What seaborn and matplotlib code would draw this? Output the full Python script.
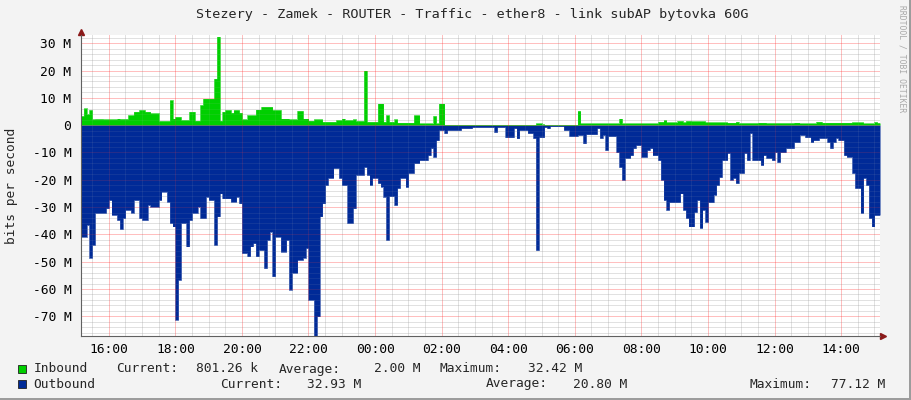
import numpy as np
import pandas as pd
import seaborn as sns
import matplotlib
matplotlib.use("Agg")
import matplotlib.pyplot as plt
from matplotlib.patches import Rectangle
from matplotlib.ticker import FixedLocator, MultipleLocator, FuncFormatter

# 5-minute samples, Mbit/s, starting 15:10
inbound = [
    3.3, 6.1, 4.0, 5.5, 2.1, 2.2, 2.2, 2.2, 2.1, 2.1, 2.1, 2.1,
    2.1, 2.4, 2.2, 2.2, 2.2, 3.6, 3.6, 4.9, 4.9, 5.5, 5.5, 4.9,
    4.9, 4.3, 4.3, 4.3, 1.5, 1.5, 1.5, 1.5, 9.1, 2.4, 3.0, 3.0,
    1.8, 1.8, 1.8, 4.9, 4.9, 1.6, 1.6, 7.3, 9.7, 9.7, 9.7, 9.7,
    17.0, 32.4, 1.6, 4.9, 5.5, 5.5, 4.5, 5.5, 5.5, 4.5, 2.1, 2.1,
    3.6, 3.6, 3.6, 5.7, 5.7, 6.7, 6.7, 6.7, 6.7, 5.5, 5.5, 5.5,
    2.4, 2.4, 2.4, 2.1, 2.1, 2.1, 5.2, 5.2, 2.4, 2.4, 1.6, 1.6,
    2.1, 2.1, 2.1, 1.2, 1.2, 1.2, 1.2, 1.2, 1.8, 1.8, 2.4, 1.8,
    1.8, 1.8, 2.1, 1.5, 1.5, 1.5, 20.0, 1.2, 1.2, 1.2, 1.2, 7.9,
    7.9, 1.2, 3.6, 1.2, 1.2, 2.1, 0.9, 0.9, 0.9, 0.9, 0.9, 0.9,
    3.6, 3.6, 0.6, 0.6, 0.6, 0.6, 0.6, 3.3, 0.6, 7.9, 7.9, 0.1,
    0.1, 0.1, 0.1, 0.1, 0.1, 0.1, 0.1, 0.1, 0.1, 0.1, 0.1, 0.1,
    0.1, 0.1, 0.1, 0.1, 0.1, 0.1, 0.1, 0.1, 0.1, 0.1, 0.1, 0.1,
    0.1, 0.1, 0.1, 0.1, 0.1, 0.1, 0.1, 0.1, 0.6, 0.6, 0.3, 0.1,
    0.1, 0.1, 0.1, 0.1, 0.1, 0.1, 0.1, 0.1, 0.1, 0.1, 0.1, 5.2,
    0.6, 0.6, 0.6, 0.6, 0.6, 0.6, 0.6, 0.6, 0.6, 0.6, 0.6, 0.6,
    0.6, 0.6, 2.4, 0.6, 0.6, 0.6, 0.6, 0.6, 0.6, 0.6, 0.6, 0.6,
    0.6, 0.6, 0.6, 0.6, 1.2, 1.2, 1.8, 1.0, 1.0, 1.0, 1.0, 1.5,
    1.5, 1.0, 1.5, 1.5, 1.4, 1.4, 1.4, 1.4, 1.4, 1.0, 1.0, 1.0,
    1.0, 1.0, 1.0, 1.0, 1.0, 0.9, 0.9, 0.9, 1.2, 0.7, 0.7, 0.7,
    0.7, 0.7, 0.7, 0.7, 0.9, 0.9, 0.9, 0.7, 0.7, 0.7, 0.7, 0.7,
    0.7, 0.7, 0.7, 0.7, 0.7, 0.9, 0.9, 0.6, 0.6, 0.6, 0.6, 0.6,
    0.6, 1.2, 1.2, 0.9, 0.9, 0.9, 0.9, 0.9, 0.9, 0.9, 0.9, 0.9,
    0.9, 0.9, 1.0, 1.0, 1.0, 1.0, 0.6, 0.6, 0.6, 0.6, 1.1, 0.8,
]
outbound = [
    40.8, 40.8, 36.5, 48.5, 43.8, 32.1, 32.1, 32.1, 32.1, 30.4, 27.4, 32.8,
    32.8, 34.7, 38.0, 34.0, 31.0, 31.0, 32.0, 27.4, 27.4, 34.0, 34.7, 34.7,
    29.2, 29.8, 29.8, 29.8, 27.4, 24.3, 24.3, 28.0, 35.8, 37.1, 71.2, 56.6,
    35.8, 35.8, 44.4, 34.7, 32.1, 32.1, 29.8, 34.0, 34.0, 26.2, 27.4, 27.4,
    43.8, 33.4, 25.0, 26.8, 26.8, 26.8, 28.0, 28.0, 26.2, 28.6, 46.8, 46.8,
    48.0, 44.4, 43.2, 48.0, 45.7, 45.7, 52.3, 42.0, 39.0, 55.3, 40.8, 40.8,
    46.3, 46.3, 42.0, 60.2, 54.0, 54.0, 49.3, 49.3, 48.5, 45.0, 63.9, 63.9,
    77.1, 70.0, 33.4, 28.6, 21.9, 19.3, 19.3, 15.7, 15.7, 19.3, 21.9, 21.9,
    35.8, 35.8, 30.4, 18.2, 18.2, 18.2, 15.3, 18.2, 21.9, 19.3, 19.3, 21.2,
    22.5, 26.2, 42.0, 26.0, 26.0, 29.2, 23.0, 19.3, 19.3, 22.6, 17.5, 17.5,
    13.9, 13.9, 12.8, 12.8, 12.8, 11.0, 8.4, 11.6, 5.5, 1.8, 1.8, 2.9,
    1.8, 1.8, 1.8, 1.8, 1.8, 1.1, 1.1, 1.1, 1.1, 0.7, 0.7, 0.7,
    0.7, 0.7, 0.7, 0.7, 0.7, 2.5, 0.7, 0.7, 0.7, 4.4, 4.4, 4.4,
    1.1, 4.8, 1.8, 1.8, 1.8, 2.9, 2.9, 4.7, 45.7, 4.4, 4.4, 0.7,
    1.1, 0.4, 0.4, 0.4, 0.4, 0.4, 1.8, 1.8, 4.0, 4.0, 4.0, 3.6,
    3.6, 6.6, 3.3, 3.3, 3.3, 3.3, 1.1, 4.7, 3.6, 9.1, 4.0, 4.0,
    4.0, 9.9, 15.3, 20.0, 12.0, 12.0, 11.0, 8.4, 7.3, 7.3, 11.6, 11.6,
    9.1, 8.4, 11.0, 11.0, 12.8, 20.0, 27.4, 31.0, 28.2, 28.2, 28.2, 28.2,
    25.0, 31.0, 34.0, 37.1, 37.1, 31.8, 27.4, 37.6, 31.0, 35.4, 28.2, 28.2,
    25.5, 21.9, 19.0, 12.8, 12.8, 10.2, 20.0, 19.3, 21.2, 17.5, 17.5, 10.2,
    12.8, 2.9, 12.8, 12.8, 12.8, 14.6, 11.0, 12.0, 12.0, 12.8, 9.9, 13.5,
    9.9, 9.9, 8.4, 8.4, 8.4, 6.2, 6.2, 3.6, 3.6, 4.4, 4.4, 6.2,
    5.5, 5.5, 4.7, 4.7, 4.7, 6.2, 8.4, 6.2, 4.7, 5.5, 5.5, 11.0,
    11.6, 11.6, 17.5, 23.0, 23.0, 32.1, 19.3, 21.9, 34.0, 37.1, 32.9, 32.9,
]

title = "Stezery - Zamek - ROUTER - Traffic - ether8 - link subAP bytovka 60G"
in_stats = ["801.26 k", "2.00 M", "32.42 M"]
out_stats = ["32.93 M", "20.80 M", "77.12 M"]

GREEN = "#00CF00"
BLUE = "#002A97"
BG = "#F3F3F3"

sns.set_style("white")
plt.rcParams["font.family"] = ["DejaVu Sans Mono", "DejaVu Sans"]

step = 5 / 60
start = 15 + 10 / 60
hours = start + np.arange(len(inbound)) * step
df = pd.DataFrame({"hour": hours, "inbound": inbound, "outbound": -np.array(outbound)})

edges = np.append(df["hour"], df["hour"].iloc[-1] + step)
inb = np.append(df["inbound"], df["inbound"].iloc[-1])
outb = np.append(df["outbound"], df["outbound"].iloc[-1])

W, H = 911, 400
fig = plt.figure(figsize=(W / 100, H / 100), dpi=100, facecolor=BG)
ax = fig.add_axes([81 / W, (H - 336) / H, 799 / W, 301 / H])
ax.set_facecolor("white")

ax.fill_between(edges, 0, inb, step="post", color=GREEN, lw=0, zorder=1)
ax.fill_between(edges, 0, outb, step="post", color=BLUE, lw=0, zorder=1)
sns.lineplot(x=edges, y=inb, drawstyle="steps-post", color=GREEN, lw=0.4,
             estimator=None, ax=ax, zorder=1)
sns.lineplot(x=edges, y=outb, drawstyle="steps-post", color=BLUE, lw=0.4,
             estimator=None, ax=ax, zorder=1)

ax.set_xlim(edges[0], edges[-1])
ax.set_ylim(-77.2, 33)

ax.xaxis.set_major_locator(FixedLocator(np.arange(16, 39, 2)))
ax.xaxis.set_minor_locator(MultipleLocator(0.5))
ax.yaxis.set_major_locator(MultipleLocator(10))
ax.yaxis.set_minor_locator(MultipleLocator(2))
ax.xaxis.set_major_formatter(FuncFormatter(lambda v, p: f"{int(round(v)) % 24:02d}:00"))
ax.yaxis.set_major_formatter(FuncFormatter(lambda v, p: "0" if abs(v) < 1e-9 else f"{int(round(v))} M"))

# grid: full strength under the data, a faint copy over it
dots = (0, (1, 1))
ax.set_axisbelow(True)
ax.grid(which="minor", color="#808080", lw=0.72, ls=dots, alpha=0.4)
ax.grid(which="major", color="#ff0000", lw=0.72, ls=dots, alpha=0.32)
ylo, yhi = ax.get_ylim()
xlo, xhi = ax.get_xlim()
ax.vlines(ax.xaxis.get_minorticklocs(), ylo, yhi, colors="#c0c0c0", lw=0.72, linestyles=dots, alpha=0.18, zorder=3)
ax.hlines(ax.yaxis.get_minorticklocs(), xlo, xhi, colors="#c0c0c0", lw=0.72, linestyles=dots, alpha=0.18, zorder=3)
ax.vlines(ax.xaxis.get_majorticklocs(), ylo, yhi, colors="#ff4040", lw=0.72, linestyles=dots, alpha=0.3, zorder=3)
ax.hlines(ax.yaxis.get_majorticklocs(), xlo, xhi, colors="#ff4040", lw=0.72, linestyles=dots, alpha=0.3, zorder=3)

ax.tick_params(which="major", direction="inout", length=4, width=0.7, color="#909090",
               labelsize=9.3, labelcolor="black")
ax.tick_params(which="minor", direction="inout", length=3, width=0.6, color="#c0c0c0")
ax.tick_params(axis="y", which="major", pad=5)
ax.tick_params(axis="x", which="major", pad=3)

for s in ["top", "right"]:
    ax.spines[s].set_visible(False)
for s in ["left", "bottom"]:
    ax.spines[s].set_color("#606060")
    ax.spines[s].set_linewidth(0.8)
    ax.spines[s].set_zorder(4)
ax.set_xlabel("")
ax.set_ylabel("")

# axis arrows
ax.plot([0, 0], [1, 1 + 4 / 301], transform=ax.transAxes, color="#606060", lw=0.8, clip_on=False)
ax.plot([1, 1 + 4 / 799], [0, 0], transform=ax.transAxes, color="#606060", lw=0.8, clip_on=False)
ax.plot([0], [1 + 3 / 301], marker="^", ms=4.5, color="#8b1a1a", transform=ax.transAxes, clip_on=False)
ax.plot([1 + 3 / 799], [0], marker=">", ms=4.5, color="#8b1a1a", transform=ax.transAxes, clip_on=False)

fig.text(472 / W, 1 - 14.5 / H, title, ha="center", va="center", fontsize=9.7)
fig.text(12 / W, 1 - 186 / H, "bits per second", rotation=90, ha="center", va="center", fontsize=9.3)
fig.text(902 / W, 1 - 5 / H, "RRDTOOL / TOBI OETIKER", rotation=270, ha="center", va="top",
         fontsize=5.8, color="#a8a8a8")

# legend rows
def legend_row(y, color, pieces):
    fig.patches.append(Rectangle((18 / W, 1 - (y + 4) / H), 8 / W, 8 / H, transform=fig.transFigure,
                                 facecolor=color, edgecolor="#202020", lw=0.6))
    for x, s in pieces:
        fig.text(x / W, 1 - y / H, s, ha="left", va="center", fontsize=9.3)

legend_row(369, GREEN, [(33.7, "Inbound"), (116, "Current:"), (196.5, in_stats[0]),
                        (279, "Average:"), (374, in_stats[1]), (440, "Maximum:"),
                        (528, in_stats[2])])
legend_row(384, BLUE, [(33.7, "Outbound"), (220, "Current:"), (307, out_stats[0]),
                       (485.5, "Average:"), (573, out_stats[1]), (750, "Maximum:"),
                       (831, out_stats[2])])

# frame shading
fig.patches.append(Rectangle((909 / W, 0), 2 / W, 1, transform=fig.transFigure, color="#9c9c9c", lw=0))
fig.patches.append(Rectangle((0, 0), 1, 2 / H, transform=fig.transFigure, color="#9c9c9c", lw=0))

fig.savefig("out.png", dpi=100, facecolor=fig.get_facecolor())
